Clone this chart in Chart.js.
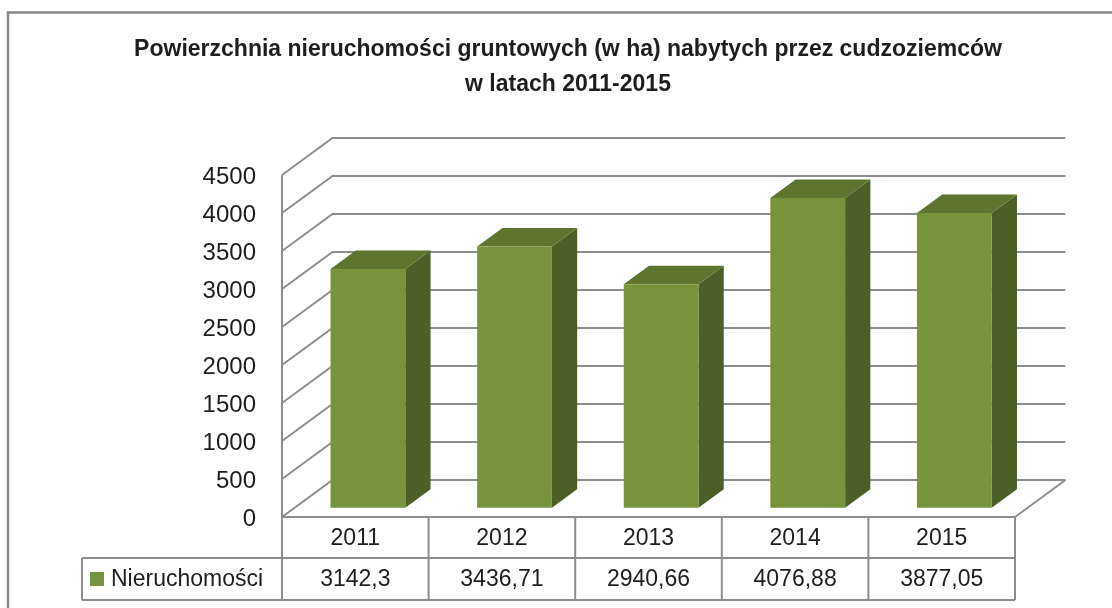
<!DOCTYPE html>
<html lang="pl">
<head>
<meta charset="utf-8">
<title>Powierzchnia nieruchomości gruntowych</title>
<script src="https://cdn.jsdelivr.net/npm/chart.js@4"></script>
<style>
  html, body { margin: 0; padding: 0; background: #fff; }
  canvas { display: block; }
</style>
</head>
<body>
<canvas id="chart" width="1112" height="608"></canvas>
<script>
// data
const years = ["2011", "2012", "2013", "2014", "2015"];
const areas = [3142.3, 3436.71, 2940.66, 4076.88, 3877.05];
const seriesName = "Nieruchomości";
const titleLines = [
    "Powierzchnia nieruchomości gruntowych (w ha) nabytych przez cudzoziemców",
    "w latach 2011-2015"
];
const yMin = 0;
const yMax = 4500;
const yStep = 500;

// look
const frontColor = "#77933C";
const topColor = "#5E7530";
const sideColor = "#4C5F26";
const lineColor = "#8E8E8E";
const textColor = "#1E1E1E";
const depthX = 50.5;   // wall depth in px
const depthY = -37;

function fmt(v) {
    return String(v).replace(".", ",");
}

const box3d = {
    id: "box3d",
    beforeDatasetsDraw(chart) {
        const ctx = chart.ctx;
        const y = chart.scales.y;
        const area = chart.chartArea;

        ctx.save();
        // outer frame
        ctx.strokeStyle = "#878787";
        ctx.lineWidth = 2.5;
        ctx.strokeRect(8, 12.5, 1300, 800);

        // walls
        ctx.strokeStyle = lineColor;
        ctx.lineWidth = 2;
        ctx.beginPath();
        y.ticks.forEach(t => {
            const py = y.getPixelForValue(t.value);
            ctx.moveTo(area.left, py);
            ctx.lineTo(area.left + depthX, py + depthY);
            ctx.lineTo(area.right + depthX, py + depthY);
        });
        // front axis line
        ctx.moveTo(area.left, y.getPixelForValue(yMax));
        ctx.lineTo(area.left, area.bottom);
        // floor right edge
        ctx.moveTo(area.right, area.bottom);
        ctx.lineTo(area.right + depthX, area.bottom + depthY);
        ctx.stroke();
        ctx.restore();
    },
    afterDatasetsDraw(chart) {
        const ctx = chart.ctx;
        const meta = chart.getDatasetMeta(0);
        const x = chart.scales.x;
        const y = chart.scales.y;
        const area = chart.chartArea;
        const ox = depthX * 0.25, oy = depthY * 0.25;
        const bx = depthX * 0.5, by = depthY * 0.5;

        ctx.save();
        meta.data.forEach(el => {
            const l = el.x - el.width / 2 + ox;
            const r = el.x + el.width / 2 + ox;
            const t = el.y + oy;
            const b = el.base + oy;

            // side
            ctx.fillStyle = sideColor;
            ctx.beginPath();
            ctx.moveTo(r, t);
            ctx.lineTo(r + bx, t + by);
            ctx.lineTo(r + bx, b + by);
            ctx.lineTo(r, b);
            ctx.closePath();
            ctx.fill();

            // top
            ctx.fillStyle = topColor;
            ctx.beginPath();
            ctx.moveTo(l, t);
            ctx.lineTo(l + bx, t + by);
            ctx.lineTo(r + bx, t + by);
            ctx.lineTo(r, t);
            ctx.closePath();
            ctx.fill();

            // front
            ctx.fillStyle = frontColor;
            ctx.fillRect(l, t, r - l, b - t);
        });

        // y tick labels
        ctx.fillStyle = textColor;
        ctx.font = "24px 'Liberation Sans', Arial, sans-serif";
        ctx.textAlign = "right";
        ctx.textBaseline = "middle";
        y.ticks.forEach(t => {
            ctx.fillText(String(t.value), 256, y.getPixelForValue(t.value) + 2);
        });

        // data table
        const catW = (area.right - area.left) / years.length;
        const row1 = area.bottom, row2 = 558, row3 = 600;
        const legendLeft = 82;
        ctx.strokeStyle = lineColor;
        ctx.lineWidth = 2;
        ctx.beginPath();
        ctx.moveTo(area.left, row1);
        ctx.lineTo(area.right, row1);
        ctx.moveTo(legendLeft, row2);
        ctx.lineTo(area.right, row2);
        ctx.moveTo(legendLeft, row3);
        ctx.lineTo(area.right, row3);
        ctx.moveTo(legendLeft, row2);
        ctx.lineTo(legendLeft, row3);
        for (let i = 0; i <= years.length; i++) {
            const px = x.getPixelForValue(0) - catW / 2 + i * catW;
            ctx.moveTo(px, row1);
            ctx.lineTo(px, row3);
        }
        ctx.stroke();

        ctx.font = "23px 'Liberation Sans', Arial, sans-serif";
        ctx.textAlign = "center";
        years.forEach((yr, i) => {
            const px = x.getPixelForValue(i);
            ctx.fillText(yr, px, (row1 + row2) / 2 + 1);
            ctx.fillText(fmt(areas[i]), px, (row2 + row3) / 2 + 1);
        });

        // legend key
        ctx.fillStyle = frontColor;
        ctx.fillRect(90, 572, 14, 14);
        ctx.fillStyle = textColor;
        ctx.textAlign = "left";
        ctx.fillText(seriesName, 111, (row2 + row3) / 2 + 1);

        // title
        ctx.font = "bold 23px 'Liberation Sans', Arial, sans-serif";
        ctx.textAlign = "center";
        ctx.fillText(titleLines[0], 568, 50);
        ctx.fillText(titleLines[1], 568, 85);
        ctx.restore();
    }
};

new Chart(document.getElementById("chart"), {
    type: "bar",
    data: {
        labels: years,
        datasets: [{
            label: seriesName,
            data: areas,
            backgroundColor: "rgba(0,0,0,0)",
            barPercentage: 0.51,
            categoryPercentage: 1
        }]
    },
    options: {
        responsive: false,
        animation: false,
        devicePixelRatio: 1,
        layout: {
            padding: { left: 282, right: 97, top: 175, bottom: 91 }
        },
        plugins: {
            legend: { display: false },
            title: { display: false },
            tooltip: { enabled: false }
        },
        scales: {
            x: { display: false, offset: true },
            y: {
                display: false,
                min: yMin,
                max: yMax,
                ticks: { stepSize: yStep }
            }
        }
    },
    plugins: [box3d]
});
</script>
</body>
</html>
